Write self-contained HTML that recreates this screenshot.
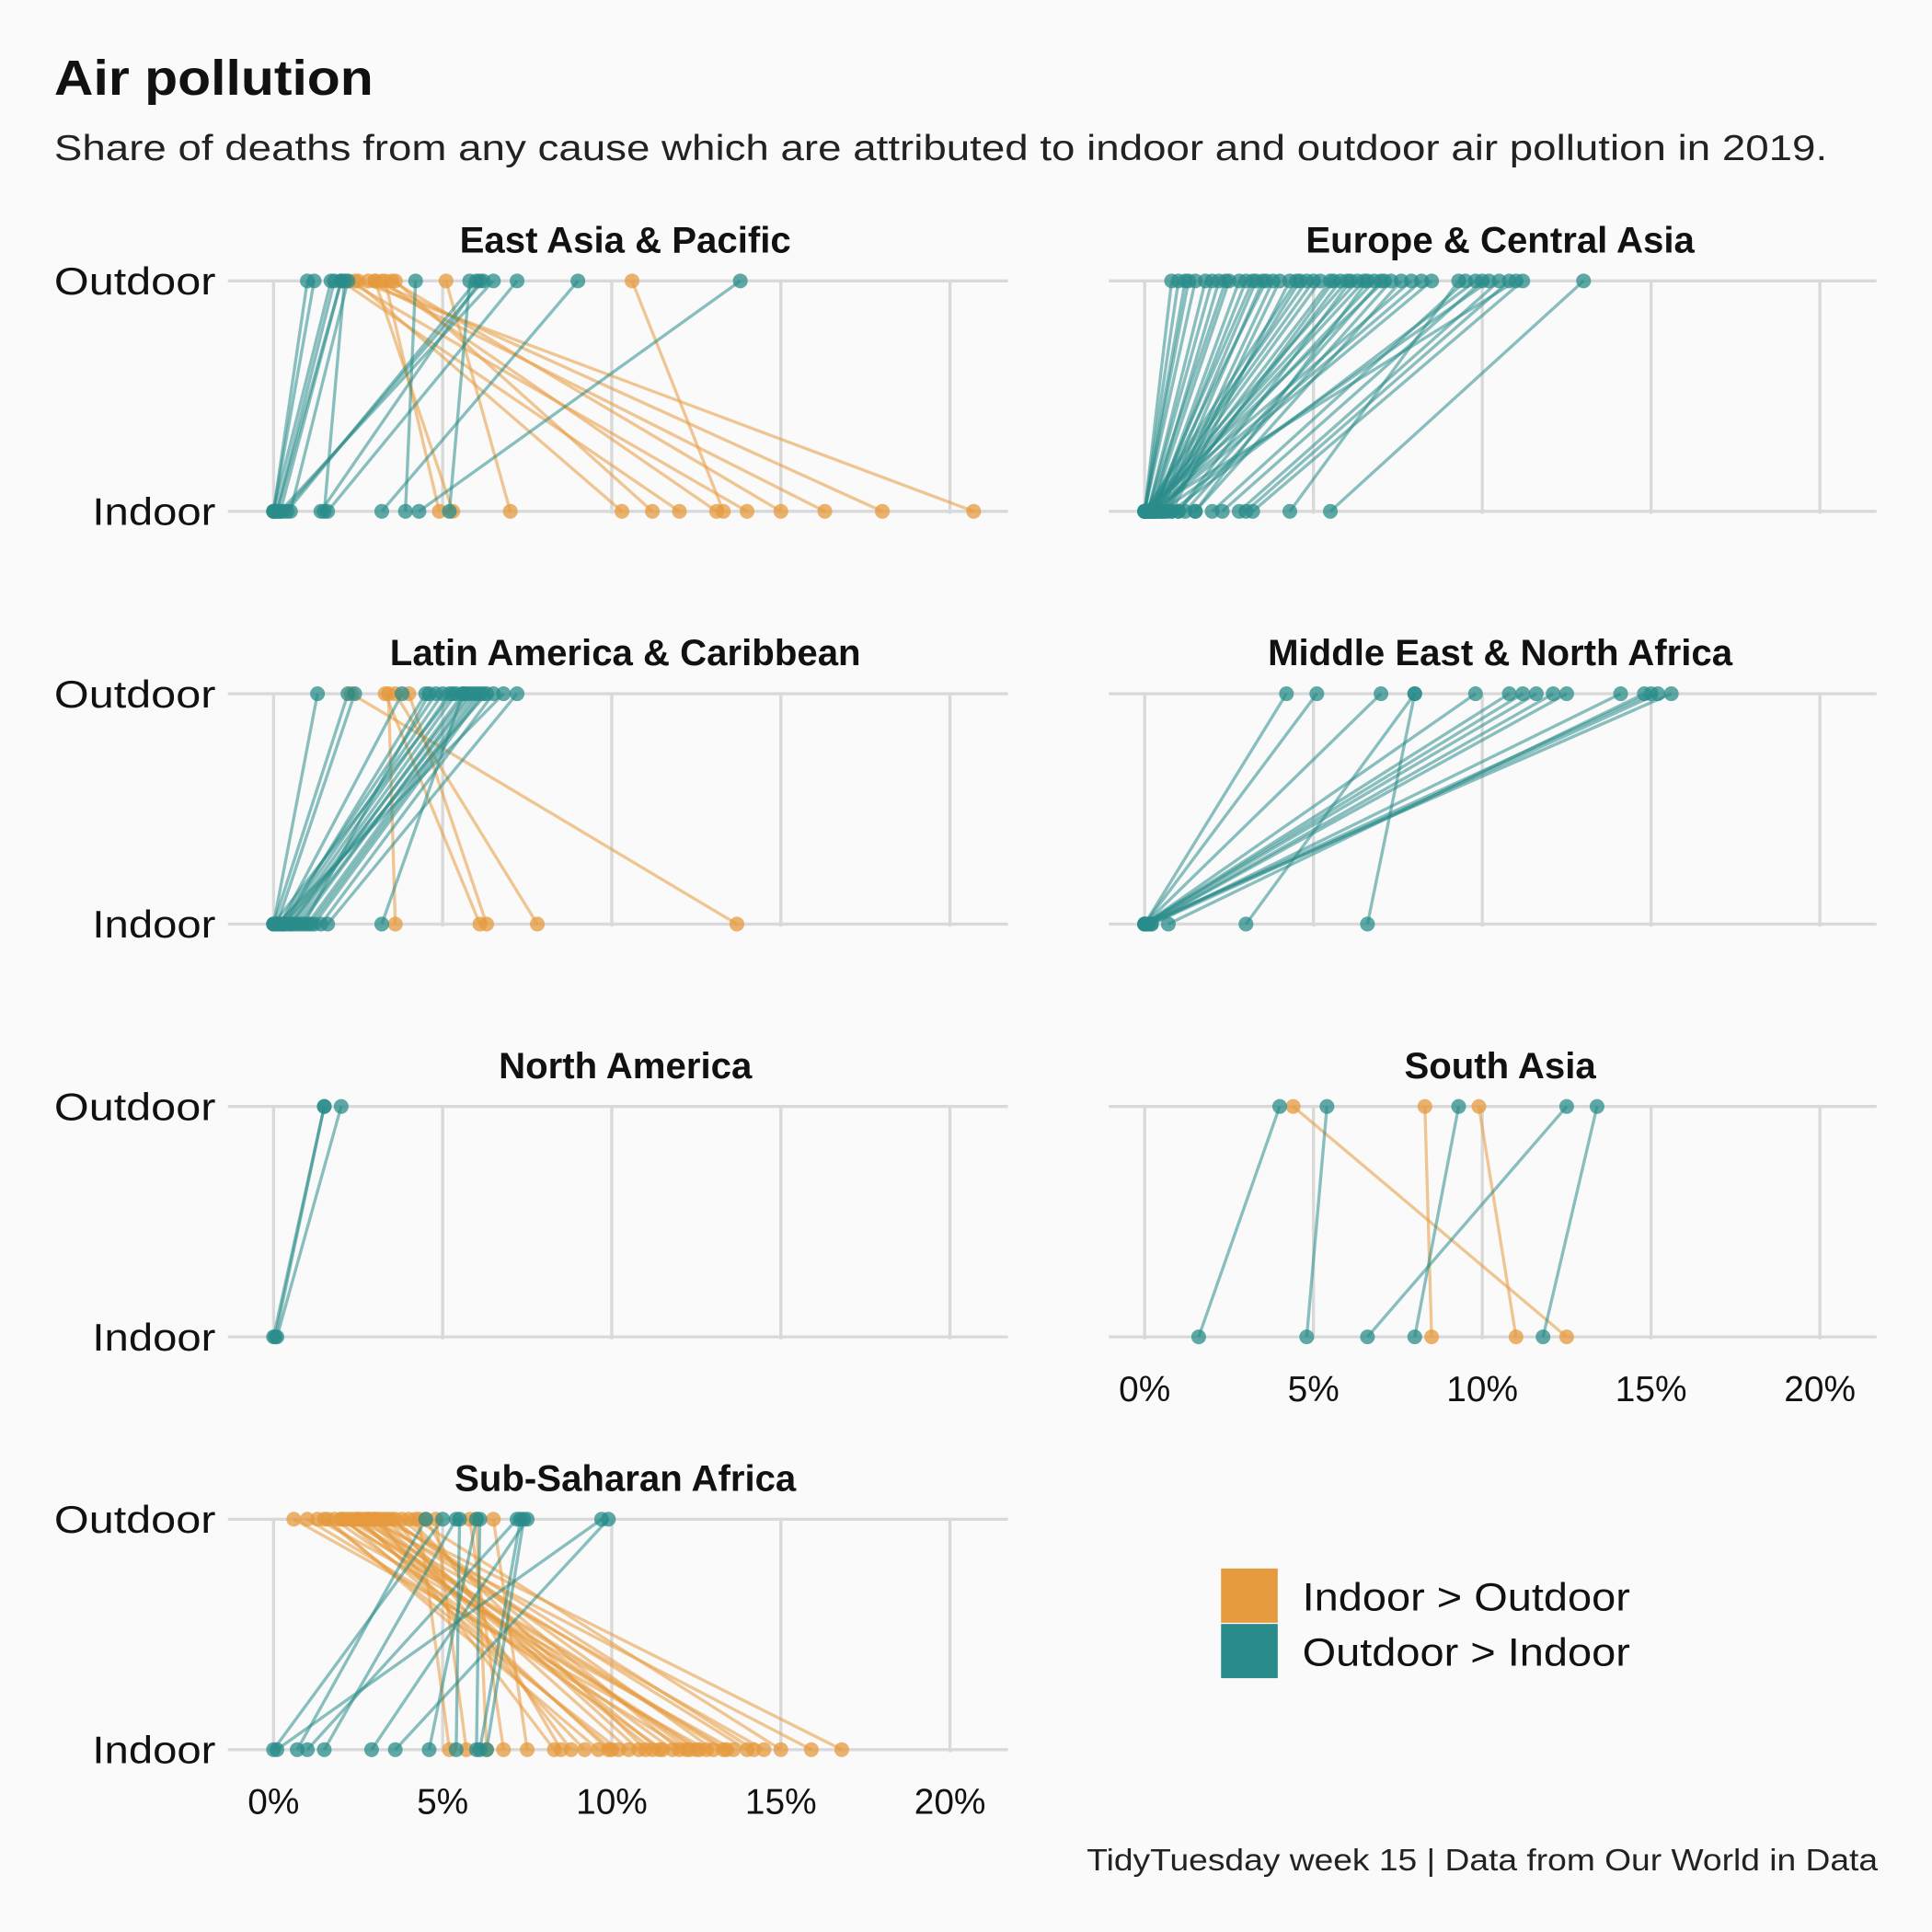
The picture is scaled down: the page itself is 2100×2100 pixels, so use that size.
<!DOCTYPE html>
<html><head><meta charset="utf-8">
<style>
html,body{margin:0;padding:0;background:#FAFAFA;}
svg{display:block;font-family:"Liberation Sans",sans-serif;}
</style></head>
<body>
<svg id="chart" width="2100" height="2100" viewBox="0 0 1568 1568" xmlns="http://www.w3.org/2000/svg">
<rect width="1568" height="1568" fill="#FAFAFA"/>
<text x="44" y="77" font-size="40" font-weight="bold" fill="#111" textLength="259" lengthAdjust="spacingAndGlyphs">Air pollution</text>
<text x="44" y="130" font-size="29" fill="#222" textLength="1439" lengthAdjust="spacingAndGlyphs">Share of deaths from any cause which are attributed to indoor and outdoor air pollution in 2019.</text>
<g id="panels"></g>
<rect x="991" y="1273" width="46" height="44" fill="#E69A3E"/>
<rect x="991" y="1318" width="46" height="44" fill="#2A8C8A"/>
<text x="1057" y="1307" font-size="32" fill="#111" textLength="266" lengthAdjust="spacingAndGlyphs">Indoor &gt; Outdoor</text>
<text x="1057" y="1352" font-size="32" fill="#111" textLength="266" lengthAdjust="spacingAndGlyphs">Outdoor &gt; Indoor</text>
<text x="882" y="1518" font-size="25" fill="#222" textLength="642" lengthAdjust="spacingAndGlyphs">TidyTuesday week 15 | Data from Our World in Data</text>
</svg>
<script>
const panelNames = ["East Asia & Pacific","Europe & Central Asia","Latin America & Caribbean","Middle East & North Africa","North America","South Asia","Sub-Saharan Africa"];
const xTicks = [0,5,10,15,20];
const xTickLabels = ["0%","5%","10%","15%","20%"];
const indoorEAP = [20.7,18.0,16.3,15.0,14.0,13.3,13.1,12.0,11.2,10.3,7.0,5.3,4.9, 0,0.1,0.2,0.3,0.5,0.2,1.4,1.6,0,3.2,3.9,4.3,5.2,0.1,0.0,0.4,1.5];
const outdoorEAP = [2.5,3.0,2.8,3.5,2.2,10.6,3.2,2.0,3.6,2.4,5.1,3.0,3.3, 1.0,1.8,2.0,6.2,2.2,6.5,6.1,7.2,1.2,9.0,4.2,13.8,5.8,2.0,1.7,6.0,2.1];
const indoorECA = [0,0,0,0,0.1,0.1,0.2,0.2,0.3,0.3,0.4,0.5,0.6,0.7,0.8,0,0,0.1,0.2,0.3,0.5,0,0.1,0.2,0.4,1.0,1.2,1.5,0,0.2,0.3,2.0,2.3,2.8,3.0,3.2,0.1,0.5,0.8,4.3,5.5,0,0.1,0.2,0.3,0.6,1.0,1.5,0,0.2];
const outdoorECA = [0.8,1.0,1.2,1.5,1.8,2.0,2.2,2.5,2.8,3.0,3.3,3.5,3.8,4.0,4.3,4.5,4.8,5.0,5.2,5.5,5.8,6.0,6.3,6.5,6.8,7.0,7.3,7.6,7.9,8.2,8.5,9.5,10.0,10.5,10.8,11.2,11.0,10.2,9.8,9.3,13.0,1.3,2.4,3.6,4.6,5.6,6.1,6.6,7.1,3.2];
const indoorLAC = [13.7,7.8,6.3,6.1,3.6, 0,0,0.1,0.2,0.3,0.4,0.5,0.6,0.8,1.0,1.2,1.4,1.6,0.2,0.3,0,0.1,0.7,0.9,3.2,0.5,0.3,1.1];
const outdoorLAC = [2.3,3.6,4.0,3.3,3.4, 1.3,2.2,2.4,4.8,5.0,5.2,5.4,5.6,5.8,6.0,6.2,6.5,7.2,3.8,4.5,5.3,6.8,5.9,4.6,5.6,5.7,6.3,6.1];
const indoorMENA = [0,0,0,0,0,0,0,0.1,0.1,0.2,0.7,3.0,6.6,0.1,0.2,0];
const outdoorMENA = [4.2,5.1,7.0,9.8,10.8,11.2,11.6,12.1,12.5,14.1,14.8,8.0,8.0,15.0,15.2,15.6];
const indoorNA = [0,0.1,0.05];
const outdoorNA = [1.5,2.0,1.5];
const indoorSA = [12.5,11.0,8.5,1.6,4.8,6.6,8.0,11.8];
const outdoorSA = [4.4,9.9,8.3,4.0,5.4,12.5,9.3,13.4];
const indoorSSA = [16.8,15.9,15.0,14.5,14.0,13.6,13.3,13.0,12.8,12.5,12.2,12.0,11.8,11.5,11.2,11.0,10.8,10.5,10.0,9.6,9.2,8.8,8.5,8.3,7.5,6.8,6.3,5.7,5.2,13.4,12.6,11.4,10.2,9.9,12.3,14.2, 0,0.1,0.7,1.0,1.5,2.9,3.6,4.6,5.4,6.0,6.1,6.3];
const outdoorSSA = [3.2,2.8,4.2,2.5,3.0,1.3,2.2,3.5,0.6,2.0,1.0,3.8,2.4,1.8,2.7,4.0,3.3,2.9,2.1,1.6,2.6,3.6,4.5,3.1,6.5,5.8,6.0,4.8,4.3,2.3,2.0,3.0,1.5,2.5,2.8,3.4, 5.0,9.7,4.5,7.2,5.4,7.5,9.9,6.0,5.5,6.1,7.3,7.4];
const panelIndoor = [indoorEAP,indoorECA,indoorLAC,indoorMENA,indoorNA,indoorSA,indoorSSA];
const panelOutdoor = [outdoorEAP,outdoorECA,outdoorLAC,outdoorMENA,outdoorNA,outdoorSA,outdoorSSA];

const NS="http://www.w3.org/2000/svg";
const g=document.getElementById('panels');
const ORANGE="#E69A3E", TEAL="#2A8C8A";
function mk(tag,attrs,parent){const e=document.createElementNS(NS,tag);for(const k in attrs)e.setAttribute(k,attrs[k]);parent.appendChild(e);return e;}
for(let p=0;p<7;p++){
  const col=p%2,row=Math.floor(p/2);
  const x0=col===0?222:929, pxPer=col===0?27.45:27.4;
  const left=col===0?185:900, right=col===0?818:1523;
  const yOut=228+row*335, yIn=415+row*335;
  const xs=v=>x0+v*pxPer;
  const pg=mk('g',{},g);
  
  
  const t=mk('text',{x:(left+right)/2+6,y:yOut-23,'font-size':30,'font-weight':'bold','text-anchor':'middle',fill:'#111'},pg);
  t.textContent=panelNames[p];
  
  
  xTicks.forEach(v=>{const l=mk('line',{x1:xs(v),x2:xs(v),y1:yOut,y2:yIn+2,stroke:'#D9D9D9','stroke-width':2.5},pg);
    
    });
  [yOut,yIn].forEach(y=>{const l=mk('line',{x1:left,x2:right,y1:y,y2:y,stroke:'#D9D9D9','stroke-width':2.5},pg);
    
    });
  if(col===0){
    [["Outdoor",yOut,131],["Indoor",yIn,100]].forEach(([s,y,w])=>{const tt=mk('text',{x:175-w,y:y+11,'font-size':31,fill:'#111',textLength:w,lengthAdjust:'spacingAndGlyphs'},pg);tt.textContent=s;
      
      });
  }
  if(p===5||p===6){
    xTicks.forEach((v,i)=>{const tt=mk('text',{x:xs(v),y:yIn+52,'font-size':29,'text-anchor':'middle',fill:'#111'},pg);tt.textContent=xTickLabels[i];
      
      });
  }
  const ind=panelIndoor[p], out=panelOutdoor[p];
  for(let i=0;i<ind.length;i++){
    const c=ind[i]>out[i]?ORANGE:TEAL;
    const l=mk('line',{x1:xs(out[i]),y1:yOut,x2:xs(ind[i]),y2:yIn,stroke:c,'stroke-width':2.5,'stroke-opacity':0.55},pg);
    
    
  }
  for(let i=0;i<ind.length;i++){
    const c=ind[i]>out[i]?ORANGE:TEAL;
    const a=mk('circle',{cx:xs(out[i]),cy:yOut,r:6,fill:c,'fill-opacity':0.75},pg);
    
    
    const b=mk('circle',{cx:xs(ind[i]),cy:yIn,r:6,fill:c,'fill-opacity':0.75},pg);
    
    
  }
}
</script>
</body></html>
